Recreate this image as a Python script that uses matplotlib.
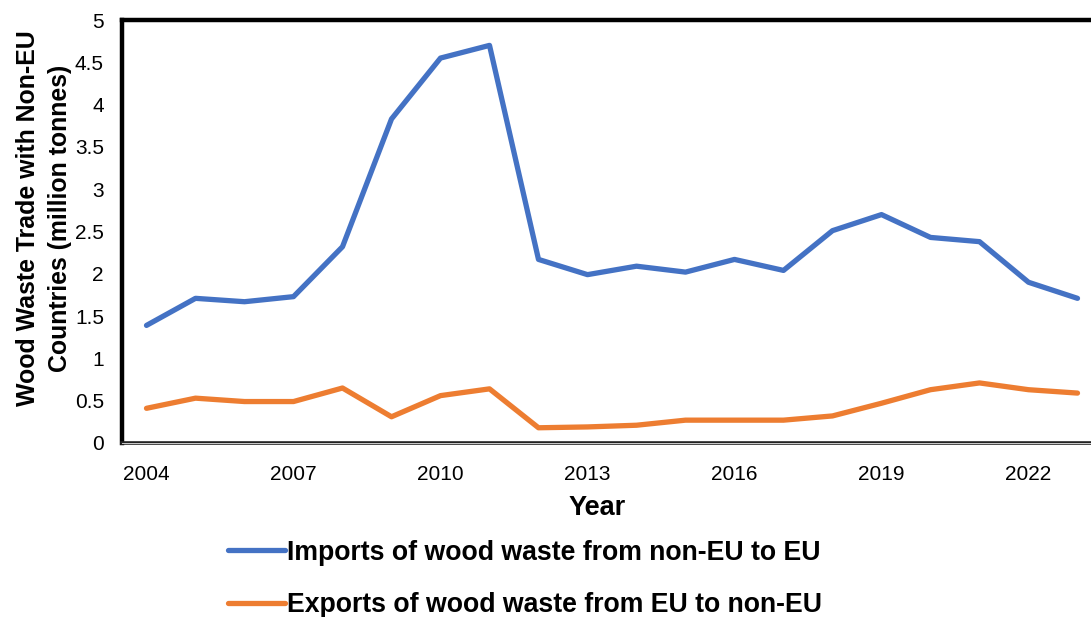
import matplotlib
matplotlib.use("Agg")
import matplotlib.pyplot as plt

years = list(range(2004, 2024))
imports = [1.39, 1.71, 1.67, 1.73, 2.32, 3.83, 4.55, 4.70, 2.17, 1.99,
           2.09, 2.02, 2.17, 2.04, 2.51, 2.70, 2.43, 2.38, 1.90, 1.71]
exports = [0.41, 0.53, 0.49, 0.49, 0.65, 0.31, 0.56, 0.64, 0.18, 0.19,
           0.21, 0.27, 0.27, 0.27, 0.32, 0.47, 0.63, 0.71, 0.63, 0.59]
xticks = [2004, 2007, 2010, 2013, 2016, 2019, 2022]
yticks = [0, 0.5, 1, 1.5, 2, 2.5, 3, 3.5, 4, 4.5, 5]
ytick_labels = ["0", "0.5", "1", "1.5", "2", "2.5", "3", "3.5", "4", "4.5", "5"]
labels = ["Imports of wood waste from non-EU to EU",
          "Exports of wood waste from EU to non-EU"]

plt.rcParams['font.family'] = ['Liberation Sans', 'DejaVu Sans']

W, H = 1091, 617
fig = plt.figure(figsize=(W / 100, H / 100), dpi=100)
ax = fig.add_axes([122 / W, (H - 443) / H, 980 / W, 423 / H])

l1, = ax.plot(years, imports, color='#4472C4', lw=3.8, solid_capstyle='round',
              solid_joinstyle='round')
l2, = ax.plot(years, exports, color='#ED7D31', lw=3.8, solid_capstyle='round',
              solid_joinstyle='round')

ax.set_xlim(2003.5, 2023.5)
ax.set_ylim(0, 5)
ax.set_xticks(xticks)
ax.set_xticklabels([str(x) for x in xticks])
ax.set_yticks(yticks)
ax.set_yticklabels(ytick_labels)
ax.tick_params(axis='both', length=0, labelsize=15, colors='black')
ax.tick_params(axis='x', pad=16)
ax.tick_params(axis='y', pad=13)

for s in ['left', 'top']:
    ax.spines[s].set_color('black')
    ax.spines[s].set_linewidth(3.2)
ax.spines['right'].set_visible(False)
ax.spines['bottom'].set_color('#222222')
ax.spines['bottom'].set_linewidth(2.6)
ax.axhline(0, color='#cccccc', lw=0.7, clip_on=False, zorder=5)

fig.text(44 / W, 1 - 218 / H, "Wood Waste Trade with Non-EU\nCountries (million tonnes)",
         rotation=90, ha='center', va='center', fontsize=17.9, fontweight='bold',
         linespacing=1.38)
fig.text(597 / W, 1 - 508 / H, "Year", ha='center', va='center',
         fontsize=19.5, fontweight='bold')

leg = fig.legend([l1, l2], labels, loc='center left',
                 bbox_to_anchor=(228 / W, 1 - 579 / H), frameon=False,
                 prop={'weight': 'bold', 'size': 19.2}, handlelength=2.15,
                 handletextpad=0.08, labelspacing=1.0, borderpad=0,
                 borderaxespad=0)

fig.savefig("out.png", dpi=100)
